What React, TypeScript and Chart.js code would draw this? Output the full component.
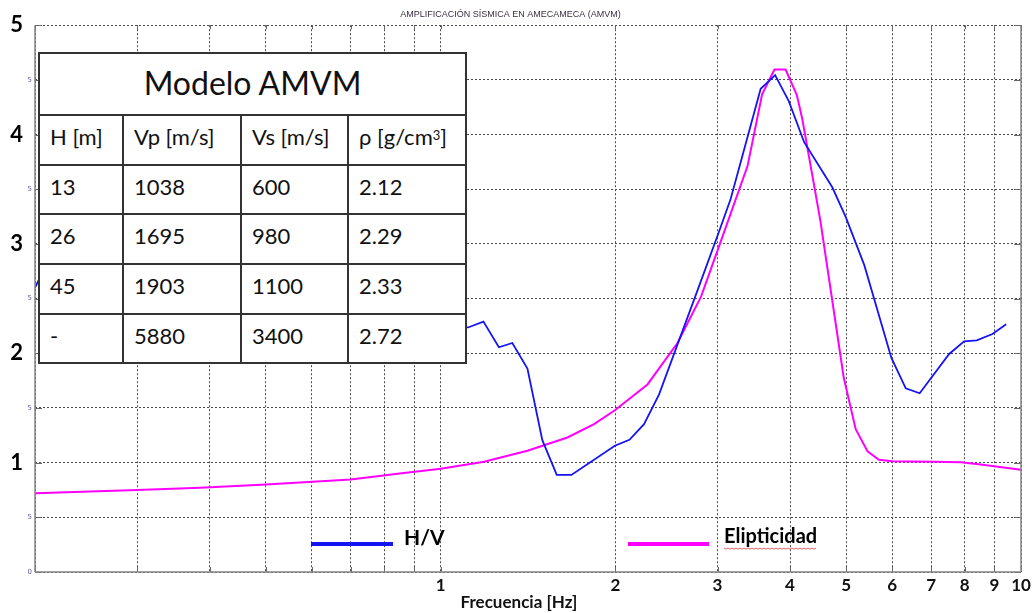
import React, { useEffect, useRef } from 'react';
import { Chart, registerables } from 'chart.js';

Chart.register(...registerables);

const chartTitle = 'AMPLIFICACIÓN SÍSMICA EN AMECAMECA (AMVM)';
const xAxisTitle = 'Frecuencia [Hz]';
const hvLabel = 'H/V';
const elLabel = 'Elipticidad';

// H/V curve (frequency in Hz, amplification)
const hvFreq = [0.2, 0.203, 0.25, 0.35, 0.5, 0.7, 0.9, 1.04, 1.104, 1.115, 1.185, 1.26, 1.329, 1.411, 1.497, 1.585, 1.68, 1.996, 2.115, 2.241, 2.379, 2.786, 3.016, 3.16, 3.56, 3.77, 3.98, 4.23, 4.73, 4.99, 5.37, 5.98, 6.33, 6.69, 7.52, 7.98, 8.39, 8.93, 9.43];
const hvAmp = [2.6, 2.67, 2.85, 2.95, 2.8, 2.6, 2.4, 2.27, 2.236, 2.236, 2.29, 2.055, 2.094, 1.861, 1.206, 0.888, 0.888, 1.155, 1.209, 1.352, 1.624, 2.61, 3.109, 3.41, 4.418, 4.543, 4.306, 3.93, 3.518, 3.245, 2.806, 1.957, 1.679, 1.634, 1.994, 2.109, 2.118, 2.176, 2.266];

// Ellipticity curve
const elFreq = [0.2, 0.3, 0.385, 0.5, 0.7, 0.85, 1.0, 1.188, 1.411, 1.654, 1.838, 1.996, 2.272, 2.559, 2.81, 3.08, 3.38, 3.58, 3.76, 3.93, 4.11, 4.2, 4.51, 4.76, 4.95, 5.19, 5.44, 5.69, 6.0, 7.1, 7.88, 8.52, 10];
const elAmp = [0.721, 0.75, 0.77, 0.8, 0.845, 0.9, 0.945, 1.009, 1.109, 1.23, 1.352, 1.479, 1.715, 2.094, 2.518, 3.11, 3.715, 4.367, 4.594, 4.594, 4.36, 4.14, 3.215, 2.382, 1.776, 1.306, 1.103, 1.027, 1.012, 1.009, 1.003, 0.982, 0.936];

const xGridValues = [0.2, 0.3, 0.4, 0.5, 0.6, 0.7, 0.8, 0.9, 1, 2, 3, 4, 5, 6, 7, 8, 9, 10];
const xTickLabels = [1, 2, 3, 4, 5, 6, 7, 8, 9, 10];
const yGridValues = [0, 0.5, 1, 1.5, 2, 2.5, 3, 3.5, 4, 4.5, 5];
const yTickLabels = [1, 2, 3, 4, 5];

const tableTitle = 'Modelo AMVM';
const tableHeaders = ['H [m]', 'Vp [m/s]', 'Vs [m/s]'];
const layerH = ['13', '26', '45', '-'];
const layerVp = ['1038', '1695', '1903', '5880'];
const layerVs = ['600', '980', '1100', '3400'];
const layerRho = ['2.12', '2.29', '2.33', '2.72'];

const HV_COLOR = '#1414f5';
const EL_COLOR = '#ff00ff';

const decorPlugin = {
  id: 'decor',
  afterDraw(chart: any) {
    const { ctx, chartArea: a, scales } = chart;
    const xs = scales.x;
    const ys = scales.y;
    const seg = (x1: number, y1: number, x2: number, y2: number) => {
      ctx.beginPath();
      ctx.moveTo(x1, y1);
      ctx.lineTo(x2, y2);
      ctx.stroke();
    };
    ctx.save();
    ctx.setLineDash([]);
    // inward tick marks
    ctx.strokeStyle = '#666';
    ctx.lineWidth = 1;
    yGridValues.forEach((v) => {
      const py = Math.round(ys.getPixelForValue(v)) + 0.5;
      seg(a.left, py, a.left + 7, py);
      seg(a.right - 7, py, a.right, py);
    });
    xGridValues.forEach((v) => {
      const px = Math.round(xs.getPixelForValue(v)) + 0.5;
      seg(px, a.bottom, px, a.bottom - 5);
      seg(px, a.top, px, a.top + 4);
    });
    // frame (left, bottom, right)
    ctx.strokeStyle = '#858585';
    ctx.lineWidth = 1.5;
    seg(a.left, a.top, a.left, a.bottom);
    seg(a.left, a.bottom, a.right, a.bottom);
    seg(a.right, a.top, a.right, a.bottom);
    // tiny half-step labels
    ctx.font = '7px "DejaVu Sans"';
    ctx.fillStyle = '#6a5aa0';
    ctx.textAlign = 'right';
    ctx.textBaseline = 'middle';
    yGridValues.forEach((v) => {
      if (!yTickLabels.includes(v)) {
        ctx.fillText(v === 0 ? '0' : '5', a.left - 3, ys.getPixelForValue(v));
      }
    });
    // legend
    const ly = a.bottom - 28;
    ctx.lineWidth = 4;
    ctx.strokeStyle = HV_COLOR;
    seg(311, ly, 393, ly);
    ctx.strokeStyle = EL_COLOR;
    seg(628, ly, 709, ly);
    ctx.fillStyle = '#000';
    ctx.textAlign = 'left';
    ctx.textBaseline = 'alphabetic';
    ctx.font = 'bold 21px Lato';
    ctx.fillText(hvLabel, 404, ly + 1);
    ctx.font = 'bold 20px Lato';
    ctx.fillText(elLabel, 724, ly - 1);
    const w = ctx.measureText(elLabel).width;
    // spell-check style wavy underline
    ctx.strokeStyle = '#e06060';
    ctx.lineWidth = 1;
    ctx.beginPath();
    for (let x = 724, i = 0; x <= 724 + w; x += 2, i++) {
      const yy = ly + 4 + (i % 2 === 0 ? 0 : 1.2);
      if (i === 0) ctx.moveTo(x, yy);
      else ctx.lineTo(x, yy);
    }
    ctx.stroke();
    // x axis title
    ctx.font = 'bold 17px Lato';
    ctx.fillStyle = '#111';
    ctx.textAlign = 'center';
    ctx.textBaseline = 'middle';
    ctx.fillText(xAxisTitle, 519, 603);
    ctx.restore();
  },
};

function ModelTable() {
  const base: React.CSSProperties = {
    background: '#fff',
    display: 'flex',
    alignItems: 'center',
    paddingLeft: 10,
    paddingBottom: 7,
    boxSizing: 'border-box',
    fontSize: 22,
    color: '#111',
    whiteSpace: 'nowrap',
  };
  const cells: React.ReactNode[] = [];
  cells.push(
    <div key="title" style={{ ...base, gridColumn: '1 / 5', justifyContent: 'center', paddingLeft: 0, paddingBottom: 4, fontSize: 32 }}>
      {tableTitle}
    </div>
  );
  tableHeaders.forEach((h, i) => cells.push(<div key={'h' + i} style={base}>{h}</div>));
  cells.push(
    <div key="h3" style={base}>
      ρ [g/cm<sup style={{ fontSize: 13, verticalAlign: 'top', lineHeight: 1, marginTop: -2 }}>3</sup>]
    </div>
  );
  layerH.forEach((_, r) => {
    [layerH[r], layerVp[r], layerVs[r], layerRho[r]].forEach((t, c) =>
      cells.push(<div key={'r' + r + 'c' + c} style={base}>{t}</div>)
    );
  });
  return (
    <div
      style={{
        position: 'absolute',
        left: 38,
        top: 52,
        width: 429,
        height: 312,
        boxSizing: 'border-box',
        background: '#333',
        padding: 2,
        display: 'grid',
        gap: 2,
        gridTemplateColumns: '82px 116px 105px 116px',
        gridTemplateRows: '60px 48px 47px 48px 48px 47px',
        fontFamily: 'Lato, "DejaVu Sans", sans-serif',
      }}
    >
      {cells}
    </div>
  );
}

export default function App() {
  const canvasRef = useRef<HTMLCanvasElement | null>(null);

  useEffect(() => {
    if (!canvasRef.current) return;
    const chart = new Chart(canvasRef.current, {
      type: 'line',
      data: {
        datasets: [
          {
            label: hvLabel,
            data: hvFreq.map((f, i) => ({ x: f, y: hvAmp[i] })),
            borderColor: HV_COLOR,
            borderWidth: 1.8,
            pointRadius: 0,
            tension: 0,
            fill: false,
          },
          {
            label: elLabel,
            data: elFreq.map((f, i) => ({ x: f, y: elAmp[i] })),
            borderColor: EL_COLOR,
            borderWidth: 2,
            pointRadius: 0,
            tension: 0,
            fill: false,
          },
        ],
      },
      options: {
        animation: false,
        responsive: false,
        devicePixelRatio: 1,
        layout: { padding: { left: 0, right: 15, top: 0, bottom: 0 } },
        plugins: {
          legend: { display: false },
          tooltip: { enabled: false },
          title: {
            display: true,
            text: chartTitle,
            color: '#3a3040',
            font: { family: '"Liberation Sans", Arial, sans-serif', size: 9, weight: 'normal' },
            padding: { top: 6, bottom: 5 },
          },
        },
        scales: {
          x: {
            type: 'logarithmic',
            min: 0.2,
            max: 10,
            position: 'bottom',
            afterBuildTicks: (scale: any) => {
              scale.ticks = xGridValues.map((v) => ({ value: v }));
            },
            afterFit: (scale: any) => {
              scale.height = 41;
            },
            ticks: {
              autoSkip: false,
              maxRotation: 0,
              minRotation: 0,
              padding: 3,
              color: '#111',
              font: { family: 'Lato', size: 17, weight: 'bold' },
              callback: (value: any) => (xTickLabels.includes(Number(value)) ? String(value) : ''),
            },
            grid: { display: true, color: '#4a4a4a', lineWidth: 1, drawTicks: false },
            border: { display: false, dash: [2, 2] },
          },
          y: {
            type: 'linear',
            min: 0,
            max: 5,
            afterBuildTicks: (scale: any) => {
              scale.ticks = yGridValues.map((v) => ({ value: v }));
            },
            afterFit: (scale: any) => {
              scale.width = 35;
            },
            ticks: {
              padding: 12,
              color: '#000',
              font: { family: 'Lato', size: 22, weight: 'bold' },
              callback: (value: any) => (yTickLabels.includes(Number(value)) ? String(value) : ''),
            },
            grid: { display: true, color: '#4a4a4a', lineWidth: 1, drawTicks: false },
            border: { display: false, dash: [2, 2] },
          },
        },
      },
      plugins: [decorPlugin],
    } as any);
    return () => chart.destroy();
  }, []);

  return (
    <div style={{ position: 'fixed', left: 0, top: 0, width: 1036, height: 613, background: '#fff' }}>
      <canvas ref={canvasRef} width={1036} height={613} style={{ position: 'absolute', left: 0, top: 0 }} />
      <ModelTable />
    </div>
  );
}
